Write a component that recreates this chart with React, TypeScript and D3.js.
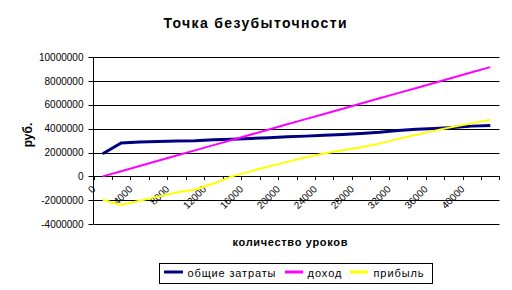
import React from "react";
import * as d3 from "d3";

const categories = [0, 2000, 4000, 6000, 8000, 10000, 12000, 14000, 16000, 18000, 20000, 22000, 24000, 26000, 28000, 30000, 32000, 34000, 36000, 38000, 40000, 42000];
const costs = [1900000, 2800000, 2880000, 2930000, 2970000, 3000000, 3070000, 3120000, 3180000, 3250000, 3330000, 3380000, 3450000, 3520000, 3600000, 3700000, 3850000, 3950000, 4030000, 4100000, 4220000, 4280000];
const revenue = [0, 437000, 874000, 1311000, 1748000, 2185000, 2622000, 3059000, 3496000, 3933000, 4370000, 4807000, 5244000, 5681000, 6118000, 6555000, 6992000, 7429000, 7866000, 8303000, 8740000, 9177000];
const profit = [-1960000, -2400000, -2050000, -1700000, -1350000, -1100000, -600000, 0, 420000, 830000, 1220000, 1600000, 1920000, 2200000, 2450000, 2750000, 3150000, 3500000, 3840000, 4170000, 4450000, 4750000];
const yTicks = [-4000000, -2000000, 0, 2000000, 4000000, 6000000, 8000000, 10000000];
const xLabelStep = 2;

const seriesNames = ["общие затраты", "доход", "прибыль"];
const seriesColors = ["#000080", "#FF00FF", "#FFFF00"];
const seriesWidths = [3, 2, 2];
const seriesData = [costs, revenue, profit];

const title = "Точка безубыточности";
const xTitle = "количество уроков";
const yTitle = "руб.";

const FONT = "'Liberation Sans', Arial, sans-serif";

export default function App() {
  const left = 93.5, right = 499.5, top = 57.3, bottom = 224;
  const x = d3.scaleBand<number>().domain(categories.map((_, i) => i)).range([left, right]);
  const y = d3.scaleLinear().domain([-4000000, 10000000]).range([bottom, top]);
  const cx = (i: number) => (x(i) as number) + x.bandwidth() / 2;
  const line = d3.line<number>().x((_, i) => cx(i)).y((d) => y(d));
  const y0 = y(0);

  const legendItems = [
    { x0: 164, x1: 183, tx: 187.5, w: 88 },
    { x0: 285, x1: 303, tx: 307.5, w: 34 },
    { x0: 350, x1: 368, tx: 373.5, w: 50 },
  ];

  return (
    <svg width={512} height={290} style={{ position: "absolute", left: 0, top: 0, background: "#fff" }} fontFamily={FONT}>
      <rect x={0} y={0} width={512} height={290} fill="#fff" />
      <text x={255} y={27.7} textAnchor="middle" fontSize={14} fontWeight="bold" textLength={183} lengthAdjust="spacing">{title}</text>
      {yTicks.map((t) => (
        <g key={t}>
          <line x1={left} x2={right} y1={Math.round(y(t)) + 0.5} y2={Math.round(y(t)) + 0.5} stroke="#000" strokeWidth={1} />
          <line x1={left - 5} x2={left} y1={Math.round(y(t)) + 0.5} y2={Math.round(y(t)) + 0.5} stroke="#000" strokeWidth={1} />
          <text x={83.5} y={y(t)} dy="0.35em" textAnchor="end" fontSize={10}>{t}</text>
        </g>
      ))}
      <line x1={left} x2={left} y1={top} y2={bottom} stroke="#000" strokeWidth={1} />
      {categories.map((_, i) => (
        <line key={"t" + i} x1={Math.round(x(i) as number) + 0.5} x2={Math.round(x(i) as number) + 0.5} y1={Math.round(y0)} y2={Math.round(y0) + 4} stroke="#000" strokeWidth={1} />
      ))}
      <line x1={right} x2={right} y1={Math.round(y0)} y2={Math.round(y0) + 4} stroke="#000" strokeWidth={1} />
      {categories.map((c, i) =>
        i % xLabelStep === 0 ? (
          <text key={"l" + i} transform={`translate(${cx(i) - 9},${y0 + 11}) rotate(-45)`} textAnchor="end" dy="0.35em" fontSize={10}>{c}</text>
        ) : null
      )}
      {seriesData.map((s, k) => (
        <path key={k} d={line(s) || ""} fill="none" stroke={seriesColors[k]} strokeWidth={seriesWidths[k]} />
      ))}
      <text x={290} y={245.7} textAnchor="middle" fontSize={11} fontWeight="bold" textLength={115} lengthAdjust="spacing">{xTitle}</text>
      <text transform="translate(28,135) rotate(-90)" textAnchor="middle" dy="0.35em" fontSize={12} fontWeight="bold">{yTitle}</text>
      <rect x={159.5} y={263.5} width={273} height={20} fill="#fff" stroke="#000" strokeWidth={1} />
      {legendItems.map((it, k) => (
        <g key={k}>
          <line x1={it.x0} x2={it.x1} y1={272} y2={272} stroke={seriesColors[k]} strokeWidth={3} />
          <text x={it.tx} y={276.5} fontSize={11} textLength={it.w} lengthAdjust="spacing">{seriesNames[k]}</text>
        </g>
      ))}
    </svg>
  );
}
